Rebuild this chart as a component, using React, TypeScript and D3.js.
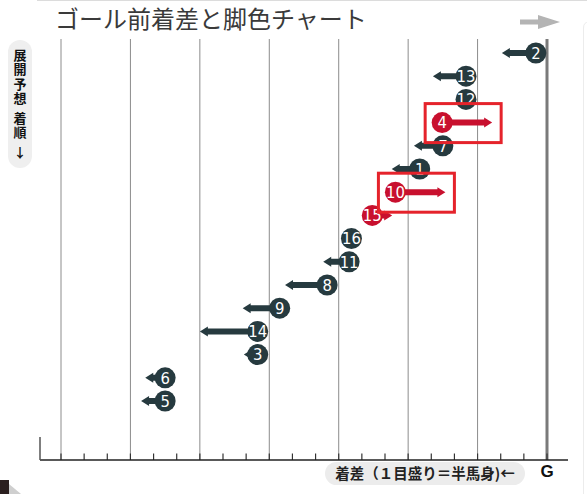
import React from "react";
import * as d3 from "d3";

// ---- data ----
const horses = ["2", "13", "12", "4", "7", "1", "10", "15", "16", "11", "8", "9", "14", "3", "6", "5"];
// circle position: half-lengths behind the goal (G = 0)
const margins = [0.48, 3.5, 3.5, 4.53, 4.5, 5.5, 6.55, 7.55, 8.45, 8.55, 9.5, 11.55, 12.5, 12.5, 16.5, 16.5];
// late speed (arrow): negative = fading (left), positive = closing (right), half-lengths
const legs = [-1.47, -1.43, 0, 2.16, -1.25, -1.21, 2.16, 0.86, 0, -1.12, -1.82, -1.6, -2.5, -0.6, -0.86, -1.04];
const closers = ["4", "10", "15"];
const boxed = ["4", "10"];
const gridValues = [0, 3, 6, 9, 12, 15, 18, 21];
const tickValues = d3.range(0, 22);
const title = "ゴール前着差と脚色チャート";
const sideWords = ["展開予想", "着順"];
const sideArrow = "↓";
const axisLabel = "着差（１目盛り＝半馬身)←";

const W = 587;
const H = 494;
const DARK = "#263a3f";
const RED = "#c8102e";

export default function App() {
  const x = d3.scaleLinear().domain([0, 21]).range([547, 61]);
  const y = d3.scalePoint<number>().domain(d3.range(horses.length)).range([53, 401]);
  const gridTop = 39;
  const baseY = 460;
  const R = 10.5;

  const arrowPath = (cx: number, tip: number, cy: number) => {
    const p = d3.path();
    const dir = tip < cx ? -1 : 1;
    const head = 8;
    const hb = tip - dir * head;
    p.moveTo(cx, cy - 3);
    p.lineTo(hb, cy - 3);
    p.lineTo(hb, cy - 5);
    p.lineTo(tip, cy);
    p.lineTo(hb, cy + 5);
    p.lineTo(hb, cy + 3);
    p.lineTo(cx, cy + 3);
    p.closePath();
    return p.toString();
  };

  const sideStarts = [48.5, 111.5];

  return (
    <svg
      width={W}
      height={H}
      style={{ position: "absolute", left: 0, top: 0, background: "#fff" }}
    >
      {/* top thin line */}
      <line x1={37} x2={W} y1={0.5} y2={0.5} stroke="#dcdcdc" />
      {/* right faint panel */}
      <path d={`M${W},22 L589,22 Q583.5,22 583.5,28 L583.5,${H}`} fill="none" stroke="#ececec" />

      {/* title */}
      <text x={55} y={28} fontFamily="'Noto Sans CJK JP', sans-serif" fontSize={24} fill="#3a3a3a">
        {title}
      </text>

      {/* top-right grey arrow */}
      <path d="M520,19.5 L538,19.5 L538,15 L560,22 L538,29 L538,24.5 L520,24.5 Z" fill="#b4b4b4" />

      {/* side label */}
      <rect x={8} y={40} width={24} height={128} rx={12} fill="#efefef" />
      {sideWords.map((w, i) => (
        <text
          key={i}
          x={20}
          y={sideStarts[i]}
          fontFamily="'Noto Sans CJK JP', sans-serif"
          fontSize={13}
          fontWeight="bold"
          fill="#111"
          style={{ writingMode: "vertical-rl", letterSpacing: "1.3px" } as React.CSSProperties}
        >
          {w}
        </text>
      ))}
      <text
        x={20}
        y={157}
        textAnchor="middle"
        fontFamily="'Noto Sans CJK JP', sans-serif"
        fontSize={13}
        fontWeight="bold"
        fill="#111"
      >
        {sideArrow}
      </text>

      {/* grid lines */}
      {gridValues.map((v) => (
        <line
          key={v}
          x1={x(v)}
          x2={x(v)}
          y1={gridTop}
          y2={baseY}
          stroke={v === 0 ? "#7a7a7a" : "#8c8c8c"}
          strokeWidth={v === 0 ? 3 : 1}
        />
      ))}

      {/* ticks */}
      {tickValues.map((v) => (
        <line key={v} x1={x(v)} x2={x(v)} y1={453.5} y2={baseY} stroke="#333" strokeWidth={1.2} />
      ))}
      {/* axis */}
      <line x1={40} x2={568} y1={baseY} y2={baseY} stroke="#222" strokeWidth={1.5} />
      <line x1={40} x2={40} y1={437} y2={baseY} stroke="#555" strokeWidth={1.5} />

      {/* markers */}
      {horses.map((h, i) => {
        const cx = x(margins[i]);
        const cy = y(i) as number;
        const red = closers.includes(h);
        const col = red ? RED : DARK;
        const tip = x(margins[i] - legs[i]);
        return (
          <g key={h}>
            {legs[i] !== 0 && <path d={arrowPath(cx, tip, cy)} fill={col} />}
            <circle cx={cx} cy={cy} r={R} fill={col} />
            <text
              x={cx}
              y={cy + 5.8}
              textAnchor="middle"
              fontFamily="'Liberation Sans Narrow', 'DejaVu Sans Condensed', sans-serif"
              fontSize={16.5}
              fill="#fff"
            >
              {h}
            </text>
          </g>
        );
      })}

      {/* highlight boxes */}
      {horses.map((h, i) => {
        if (!boxed.includes(h)) return null;
        const cx = x(margins[i]);
        const cy = y(i) as number;
        const tip = x(margins[i] - legs[i]);
        const left = cx - 17;
        const right = tip + 9;
        return (
          <rect
            key={"b" + h}
            x={left}
            y={cy - 19}
            width={right - left}
            height={39}
            fill="none"
            stroke="#e5232b"
            strokeWidth={3}
          />
        );
      })}

      {/* bottom axis label */}
      <rect x={325} y={462} width={200} height={23} rx={11.5} fill="#ececec" />
      <text
        x={425}
        y={478.5}
        textAnchor="middle"
        fontFamily="'Noto Sans CJK JP', sans-serif"
        fontSize={14.5}
        fontWeight="bold"
        fill="#222"
      >
        {axisLabel}
      </text>
      <text
        x={x(0)}
        y={477}
        textAnchor="middle"
        fontFamily="'Liberation Sans', Arial, sans-serif"
        fontSize={17}
        fontWeight="bold"
        fill="#111"
      >
        G
      </text>

      {/* bottom-left corner mark */}
      <rect x={0} y={480} width={9} height={14} fill="#2b1f1f" />
      <path d="M9,484 L21,494 L9,494 Z" fill="#cfcfcf" />
    </svg>
  );
}
